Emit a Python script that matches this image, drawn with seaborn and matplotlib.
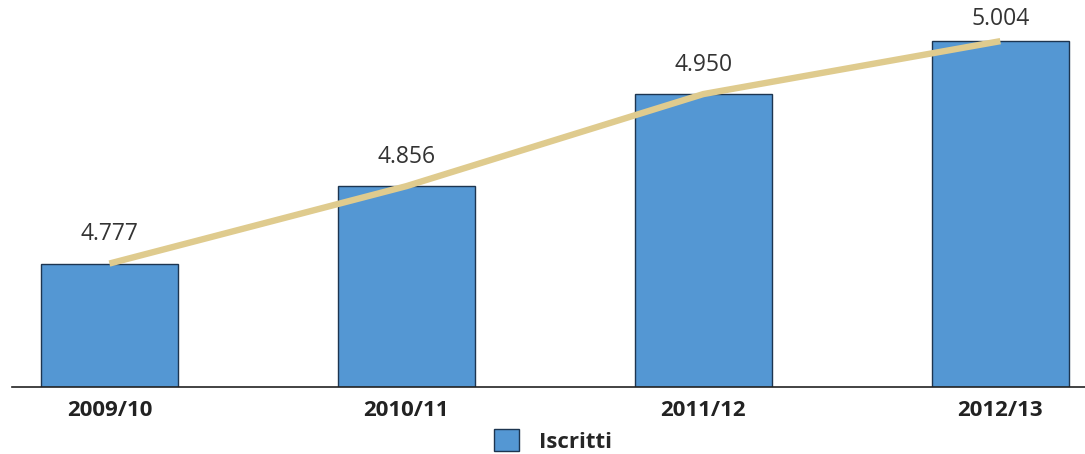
import matplotlib
matplotlib.use("Agg")
import matplotlib.pyplot as plt
import seaborn as sns
import pandas as pd

# Iscritti per anno accademico
anni = ["2009/10", "2010/11", "2011/12", "2012/13"]
iscritti = [4777, 4856, 4950, 5004]

bar_color = "#5497d3"
edge_color = "#1d3550"
line_color = "#dfcb8e"

sns.set_theme(style="white")
plt.rcParams["font.family"] = ["Open Sans", "DejaVu Sans"]

df = pd.DataFrame({"anno": anni, "iscritti": iscritti})

fig = plt.figure(figsize=(10.85, 4.54), dpi=100)
ax = fig.add_axes([12 / 1085, (454 - 387) / 454, 1073 / 1085, 387 / 454])

sns.barplot(data=df, x="anno", y="iscritti", color=bar_color, width=0.46,
            edgecolor=edge_color, linewidth=1.0, saturation=1, ax=ax,
            label="Iscritti")
if ax.get_legend() is not None:
    ax.get_legend().remove()
sns.lineplot(x=list(range(len(anni))), y=iscritti, color=line_color,
             linewidth=4.6, ax=ax, zorder=5, solid_capstyle="butt",
             legend=False)

# Etichette dei valori (formato italiano)
offsets = [21, 21, 21, 16]
for i, (v, off) in enumerate(zip(iscritti, offsets)):
    ax.annotate(f"{v:,}".replace(",", "."), xy=(i, v), xytext=(0, off),
                textcoords="offset points", ha="center", va="center",
                fontsize=16.5, color="#333333")

ax.set_ylim(4651, 5046)
ax.set_xlim(-0.328, 3.285)
ax.set_xlabel("")
ax.set_ylabel("")
ax.set_yticks([])
ax.tick_params(axis="x", length=0, pad=9)
for lbl in ax.get_xticklabels():
    lbl.set_fontweight("bold")
    lbl.set_fontsize(16)
    lbl.set_color("#222222")
for side in ["top", "right", "left"]:
    ax.spines[side].set_visible(False)
ax.spines["bottom"].set_color("#222222")
ax.spines["bottom"].set_linewidth(1.2)

bar_handle = ax.patches[0]
leg = fig.legend([bar_handle], ["Iscritti"], loc="center",
                 bbox_to_anchor=(553 / 1085, 1 - 441 / 454),
                 frameon=False, handlelength=1.1, handleheight=1.1,
                 handletextpad=0.9, prop={"weight": "bold", "size": 16})

fig.savefig("out.png", dpi=100)
